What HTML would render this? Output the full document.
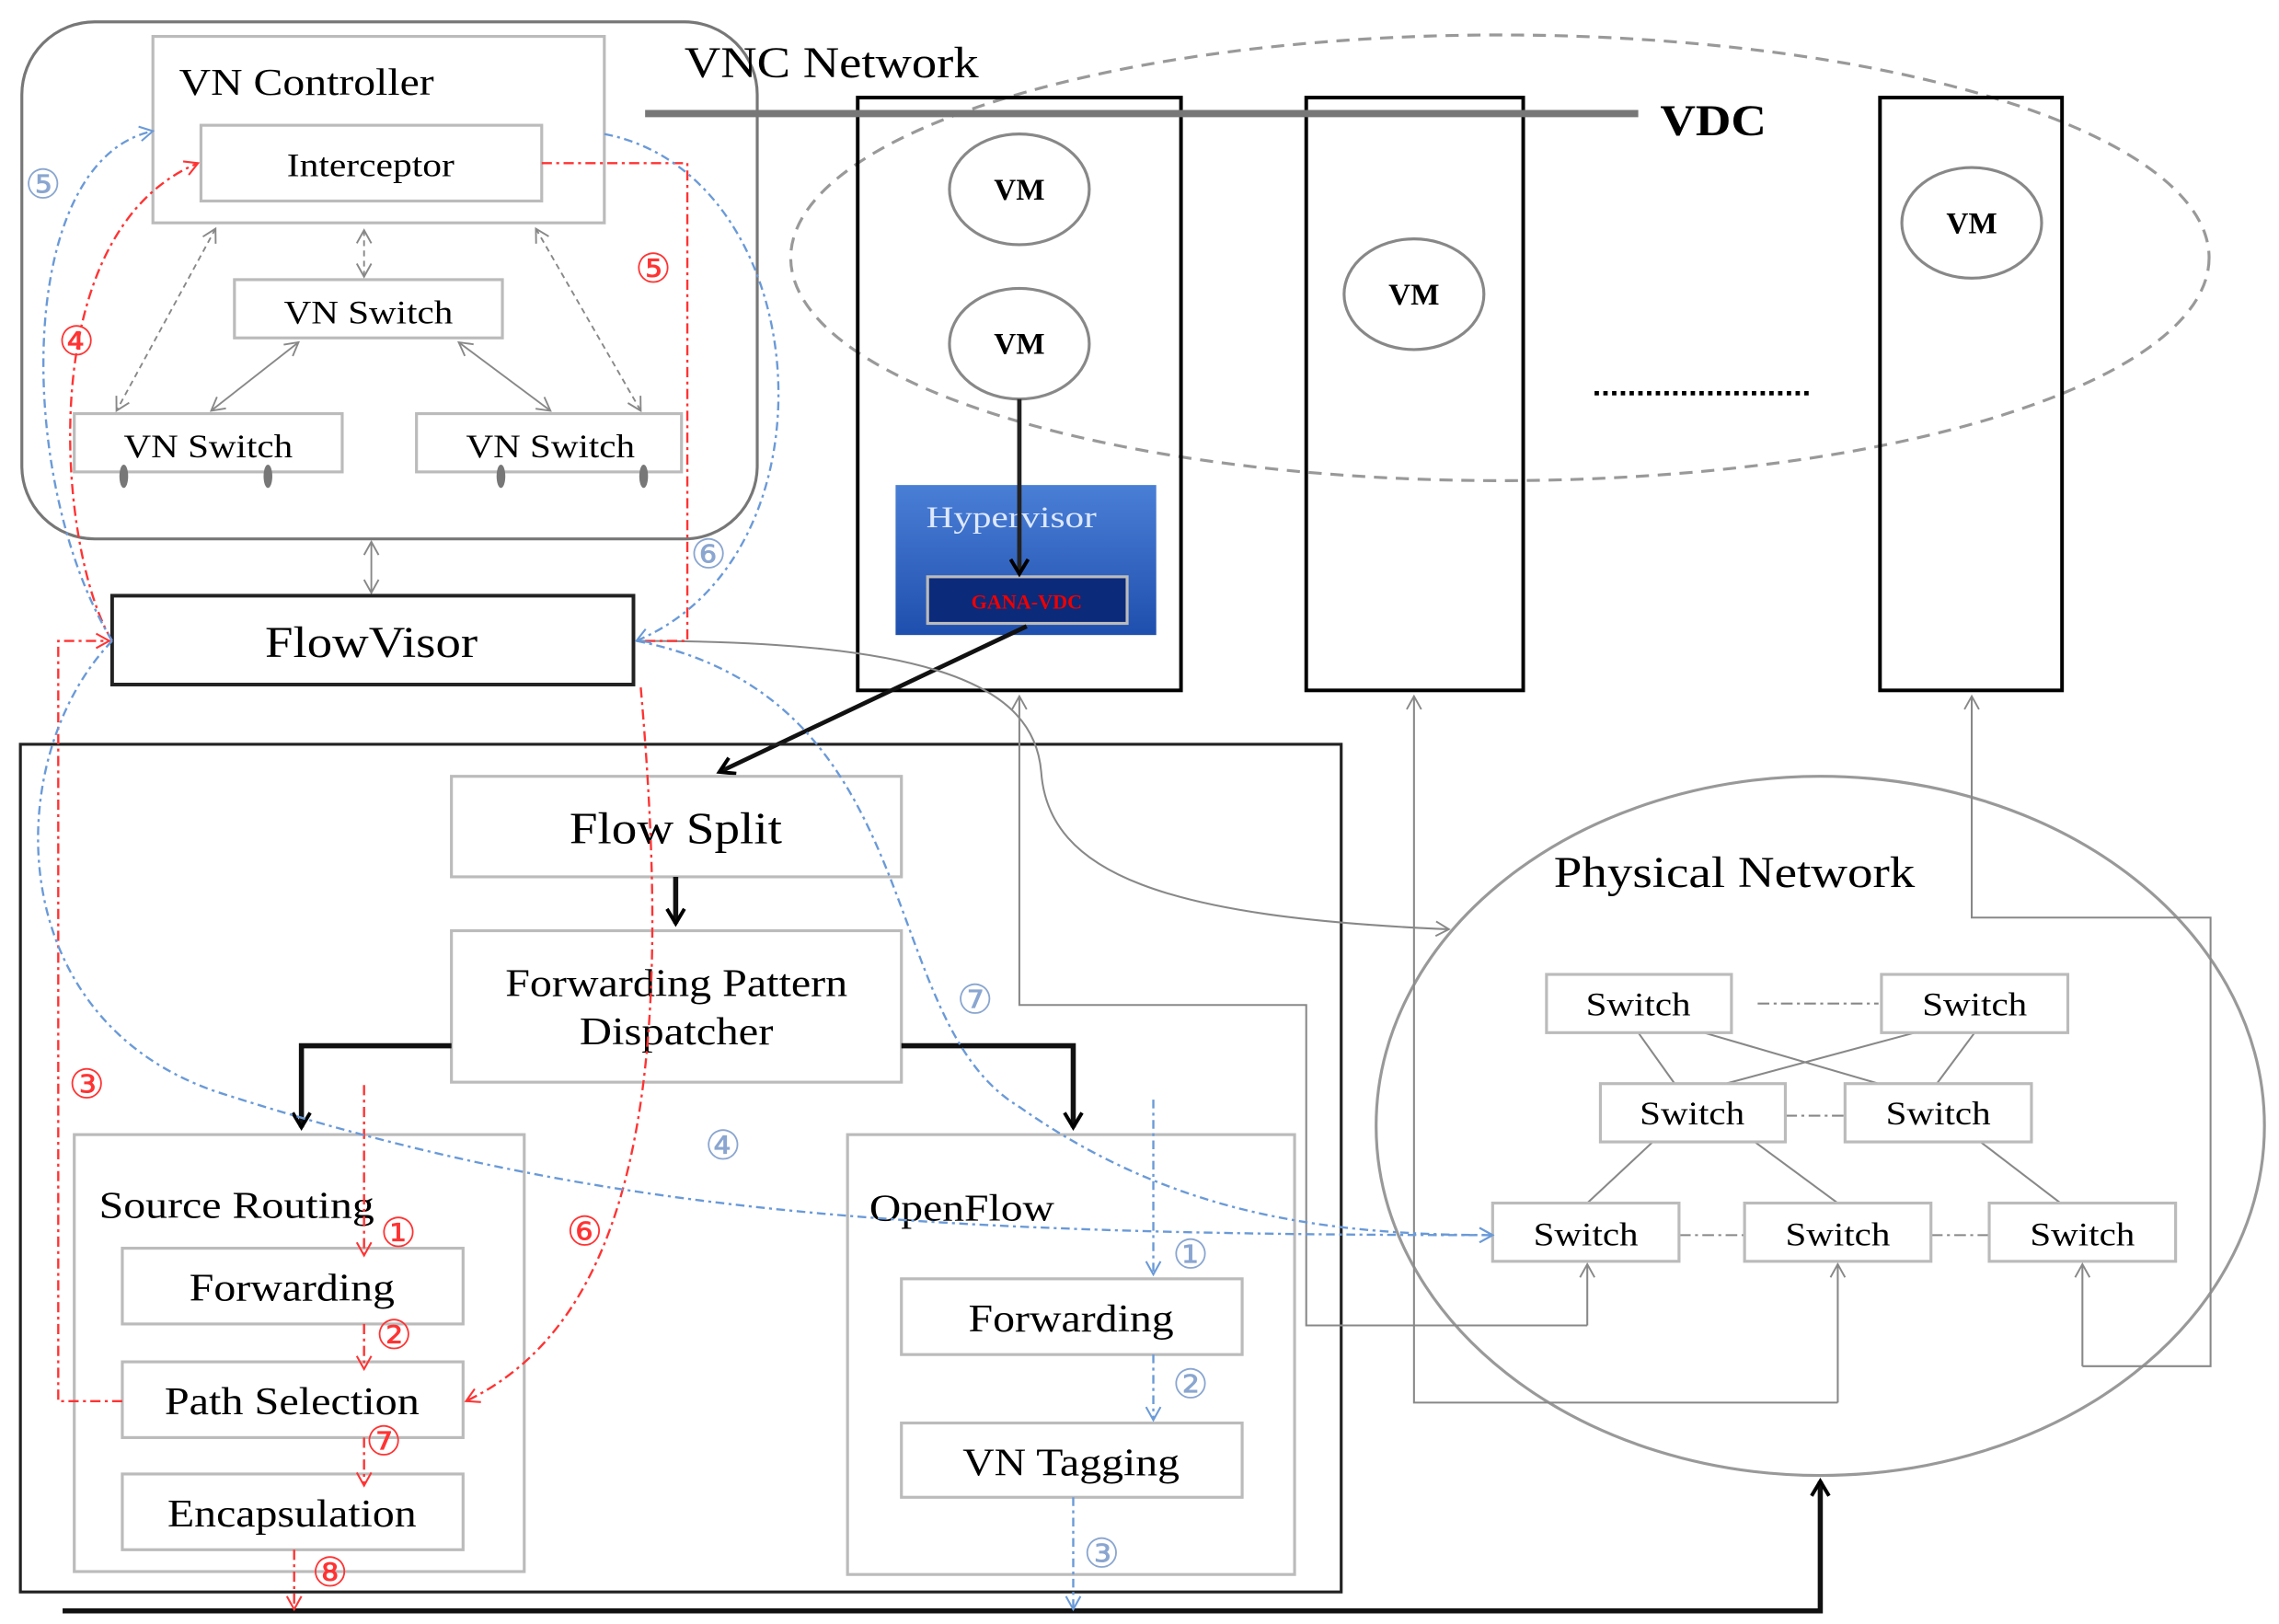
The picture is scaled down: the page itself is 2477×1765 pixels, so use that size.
<!DOCTYPE html>
<html><head><meta charset="utf-8"><style>html,body{margin:0;padding:0;background:#fff}svg{display:block}</style></head>
<body>
<svg width="2477" height="1765" viewBox="0 0 1565 1115" preserveAspectRatio="none" xmlns="http://www.w3.org/2000/svg" font-family="'Liberation Serif',serif">
<defs>
<marker id="ag" markerWidth="12" markerHeight="12" refX="10" refY="6" orient="auto" markerUnits="userSpaceOnUse"><path d="M1,1 L10,6 L1,11" fill="none" stroke="#888" stroke-width="1.2"/></marker>
<marker id="agb" markerWidth="12" markerHeight="12" refX="2" refY="6" orient="auto" markerUnits="userSpaceOnUse"><path d="M11,1 L2,6 L11,11" fill="none" stroke="#888" stroke-width="1.2"/></marker>
<marker id="ar" markerWidth="12" markerHeight="12" refX="10" refY="6" orient="auto" markerUnits="userSpaceOnUse"><path d="M1,1 L10,6 L1,11" fill="none" stroke="#f33" stroke-width="1.3"/></marker>
<marker id="abl" markerWidth="12" markerHeight="12" refX="10" refY="6" orient="auto" markerUnits="userSpaceOnUse"><path d="M1,1 L10,6 L1,11" fill="none" stroke="#6a9ad8" stroke-width="1.3"/></marker>
<marker id="ak" markerWidth="14" markerHeight="14" refX="11" refY="7" orient="auto" markerUnits="userSpaceOnUse"><path d="M1,1 L11,7 L1,13" fill="none" stroke="#000" stroke-width="2.5"/></marker>
<linearGradient id="hv" x1="0" y1="0" x2="0" y2="1"><stop offset="0" stop-color="#4a7fd6"/><stop offset="1" stop-color="#1f4fae"/></linearGradient>
</defs>

<rect x="15" y="15" width="505" height="355" rx="50" fill="none" stroke="#777" stroke-width="2"/>
<rect x="105" y="25" width="310" height="128" fill="none" stroke="#bbb" stroke-width="2"/>
<text x="123" y="65" font-size="26" textLength="175" lengthAdjust="spacingAndGlyphs">VN Controller</text>
<rect x="138" y="86" width="234" height="52" fill="none" stroke="#bbb" stroke-width="2"/>
<text x="197" y="121" font-size="23" textLength="115" lengthAdjust="spacingAndGlyphs">Interceptor</text>
<rect x="161" y="192" width="184" height="40" fill="none" stroke="#bbb" stroke-width="2"/>
<text x="195" y="222" font-size="23" textLength="116" lengthAdjust="spacingAndGlyphs">VN Switch</text>
<rect x="51" y="284" width="184" height="40" fill="none" stroke="#bbb" stroke-width="2"/>
<text x="85" y="314" font-size="23" textLength="116" lengthAdjust="spacingAndGlyphs">VN Switch</text>
<rect x="286" y="284" width="182" height="40" fill="none" stroke="#bbb" stroke-width="2"/>
<text x="320" y="314" font-size="23" textLength="116" lengthAdjust="spacingAndGlyphs">VN Switch</text>
<g fill="#777"><ellipse cx="85" cy="327" rx="3" ry="8"/><ellipse cx="184" cy="327" rx="3" ry="8"/><ellipse cx="344" cy="327" rx="3" ry="8"/><ellipse cx="442" cy="327" rx="3" ry="8"/></g>
<g stroke="#888" stroke-width="1.2" fill="none">
<line x1="250" y1="158" x2="250" y2="190" stroke-dasharray="4,3" marker-start="url(#agb)" marker-end="url(#ag)"/>
<line x1="148" y1="157" x2="80" y2="282" stroke-dasharray="4,3" marker-start="url(#agb)" marker-end="url(#ag)"/>
<line x1="368" y1="157" x2="440" y2="282" stroke-dasharray="4,3" marker-start="url(#agb)" marker-end="url(#ag)"/>
<line x1="205" y1="235" x2="145" y2="282" marker-start="url(#agb)" marker-end="url(#ag)"/>
<line x1="315" y1="235" x2="378" y2="282" marker-start="url(#agb)" marker-end="url(#ag)"/>
<line x1="255" y1="372" x2="255" y2="407" marker-start="url(#agb)" marker-end="url(#ag)"/>
</g>
<rect x="77" y="409" width="358" height="61" fill="none" stroke="#222" stroke-width="2.5"/>
<text x="182" y="451" font-size="30" textLength="146" lengthAdjust="spacingAndGlyphs">FlowVisor</text>

<ellipse cx="1030" cy="177" rx="487" ry="153" fill="none" stroke="#999" stroke-width="2" stroke-dasharray="9,6"/>
<rect x="589" y="67" width="222" height="407" fill="none" stroke="#000" stroke-width="2.5"/>
<rect x="897" y="67" width="149" height="407" fill="none" stroke="#000" stroke-width="2.5"/>
<rect x="1291" y="67" width="125" height="407" fill="none" stroke="#000" stroke-width="2.5"/>
<line x1="443" y1="78" x2="1125" y2="78" stroke="#777" stroke-width="5"/>
<text x="470" y="53" font-size="30" textLength="202" lengthAdjust="spacingAndGlyphs">VNC Network</text>
<text x="1140" y="93" font-size="30" font-weight="bold" textLength="73" lengthAdjust="spacingAndGlyphs">VDC</text>
<g fill="#fff" stroke="#888" stroke-width="2">
<ellipse cx="700" cy="130" rx="48" ry="38"/><ellipse cx="700" cy="236" rx="48" ry="38"/><ellipse cx="971" cy="202" rx="48" ry="38"/><ellipse cx="1354" cy="153" rx="48" ry="38"/></g>
<g font-size="21" font-weight="bold" text-anchor="middle"><text x="700" y="137">VM</text><text x="700" y="243">VM</text><text x="971" y="209">VM</text><text x="1354" y="160">VM</text></g>
<line x1="1095" y1="270" x2="1245" y2="270" stroke="#000" stroke-width="3" stroke-dasharray="3,3"/>
<rect x="615" y="333" width="179" height="103" fill="url(#hv)"/>
<text x="636" y="362" font-size="21" fill="#dde8ff" textLength="117" lengthAdjust="spacingAndGlyphs">Hypervisor</text>
<rect x="637" y="396" width="137" height="32" fill="#0b2a7a" stroke="#bbb" stroke-width="2"/>
<text x="705" y="418" font-size="14" font-weight="bold" fill="#e00" text-anchor="middle">GANA-VDC</text>
<line x1="700" y1="274" x2="700" y2="394" stroke="#222" stroke-width="3" marker-end="url(#ak)"/>
<line x1="705" y1="430" x2="494" y2="530" stroke="#111" stroke-width="3" marker-end="url(#ak)"/>

<rect x="14" y="511" width="907" height="582" fill="none" stroke="#222" stroke-width="2"/>
<g fill="none" stroke="#bbb" stroke-width="2">
<rect x="310" y="533" width="309" height="69"/><rect x="310" y="639" width="309" height="104"/>
<rect x="51" y="779" width="309" height="300"/><rect x="582" y="779" width="307" height="302"/>
<rect x="84" y="857" width="234" height="52"/><rect x="84" y="935" width="234" height="52"/><rect x="84" y="1012" width="234" height="52"/>
<rect x="619" y="878" width="234" height="52"/><rect x="619" y="977" width="234" height="51"/>
</g>
<g font-size="27" lengthAdjust="spacingAndGlyphs">
<text x="391" y="579" font-size="31" textLength="146" lengthAdjust="spacingAndGlyphs">Flow Split</text>
<text x="347" y="684" textLength="235" lengthAdjust="spacingAndGlyphs">Forwarding Pattern</text><text x="398" y="717" textLength="133" lengthAdjust="spacingAndGlyphs">Dispatcher</text>
<text x="130" y="893" textLength="141" lengthAdjust="spacingAndGlyphs">Forwarding</text><text x="113" y="971" textLength="175" lengthAdjust="spacingAndGlyphs">Path Selection</text><text x="115" y="1048" textLength="171" lengthAdjust="spacingAndGlyphs">Encapsulation</text>
<text x="665" y="914" textLength="141" lengthAdjust="spacingAndGlyphs">Forwarding</text><text x="661" y="1013" textLength="149" lengthAdjust="spacingAndGlyphs">VN Tagging</text>
<text x="68" y="836" font-size="26" textLength="189" lengthAdjust="spacingAndGlyphs">Source Routing</text>
<text x="597" y="838" font-size="26" textLength="127" lengthAdjust="spacingAndGlyphs">OpenFlow</text>
</g>
<g stroke="#111" stroke-width="3.5" fill="none">
<line x1="464" y1="602" x2="464" y2="634" marker-end="url(#ak)"/>
<polyline points="310,718 207,718 207,774" marker-end="url(#ak)"/>
<polyline points="619,718 737,718 737,774" marker-end="url(#ak)"/>
<polyline points="43,1106 1250,1106 1250,1017" marker-end="url(#ak)"/>
</g>

<ellipse cx="1250" cy="773" rx="305" ry="240" fill="none" stroke="#999" stroke-width="2"/>
<text x="1067" y="609" font-size="30" textLength="248" lengthAdjust="spacingAndGlyphs">Physical Network</text>
<g stroke="#888" stroke-width="1.3" fill="none">
<line x1="1125" y1="709" x2="1150" y2="744"/><line x1="1170" y1="709" x2="1290" y2="744"/>
<line x1="1315" y1="709" x2="1185" y2="744"/><line x1="1356" y1="709" x2="1330" y2="744"/>
<line x1="1135" y1="784" x2="1090" y2="826"/><line x1="1205" y1="784" x2="1262" y2="826"/><line x1="1360" y1="784" x2="1415" y2="826"/>
<line x1="1207" y1="689" x2="1290" y2="689" stroke-dasharray="8,3,2,3"/>
<line x1="1226" y1="766" x2="1267" y2="766" stroke-dasharray="8,3,2,3"/>
<line x1="1153" y1="848" x2="1198" y2="848" stroke-dasharray="8,3,2,3"/>
<line x1="1326" y1="848" x2="1366" y2="848" stroke-dasharray="8,3,2,3"/>
</g>
<g fill="#fff" stroke="#bbb" stroke-width="2">
<rect x="1062" y="669" width="127" height="40"/><rect x="1292" y="669" width="128" height="40"/>
<rect x="1099" y="744" width="127" height="40"/><rect x="1267" y="744" width="128" height="40"/>
<rect x="1025" y="826" width="128" height="40"/><rect x="1198" y="826" width="128" height="40"/><rect x="1366" y="826" width="128" height="40"/>
</g>
<g font-size="23">
<text x="1089" y="697" textLength="72" lengthAdjust="spacingAndGlyphs">Switch</text><text x="1320" y="697" textLength="72" lengthAdjust="spacingAndGlyphs">Switch</text>
<text x="1126" y="772" textLength="72" lengthAdjust="spacingAndGlyphs">Switch</text><text x="1295" y="772" textLength="72" lengthAdjust="spacingAndGlyphs">Switch</text>
<text x="1053" y="855" textLength="72" lengthAdjust="spacingAndGlyphs">Switch</text><text x="1226" y="855" textLength="72" lengthAdjust="spacingAndGlyphs">Switch</text><text x="1394" y="855" textLength="72" lengthAdjust="spacingAndGlyphs">Switch</text>
</g>
<g stroke="#888" stroke-width="1.3" fill="none">
<polyline points="1090,910 897,910 897,690 700,690 700,478" marker-end="url(#ag)"/>
<line x1="1090" y1="910" x2="1090" y2="868" marker-end="url(#ag)"/>
<polyline points="1262,963 971,963 971,478" marker-end="url(#ag)"/>
<line x1="1262" y1="963" x2="1262" y2="868" marker-end="url(#ag)"/>
<polyline points="1430,938 1518,938 1518,630 1354,630 1354,478" marker-end="url(#ag)"/>
<line x1="1430" y1="938" x2="1430" y2="868" marker-end="url(#ag)"/>
<path d="M437,440 C640,440 710,470 715,530 C720,600 800,630 995,638" marker-end="url(#ag)"/>
</g>

<g stroke="#f33" stroke-width="1.5" fill="none" stroke-dasharray="7,3,2,3">
<polyline points="372,112 472,112 472,440 440,440"/>
<path d="M77,440 C40,380 20,160 136,112" marker-end="url(#ar)"/>
<polyline points="84,962 40,962 40,440 75,440" marker-end="url(#ar)"/>
<path d="M440,472 C460,700 450,900 320,962" marker-end="url(#ar)"/>
<line x1="250" y1="745" x2="250" y2="862" marker-end="url(#ar)"/>
<line x1="250" y1="909" x2="250" y2="940" marker-end="url(#ar)"/>
<line x1="250" y1="987" x2="250" y2="1020" marker-end="url(#ar)"/>
<line x1="202" y1="1064" x2="202" y2="1105" marker-end="url(#ar)"/>
</g>
<g font-size="28" fill="#f33" font-family="'DejaVu Sans',sans-serif">
<text x="436" y="194">⑤</text><text x="40" y="244">④</text><text x="47" y="754">③</text><text x="389" y="855">⑥</text>
<text x="261" y="856">①</text><text x="258" y="926">②</text><text x="251" y="999">⑦</text><text x="214" y="1089">⑧</text>
</g>
<g stroke="#6a9ad8" stroke-width="1.5" fill="none" stroke-dasharray="6,3,2,3">
<path d="M77,440 C10,330 10,110 105,90" marker-end="url(#abl)"/>
<path d="M415,92 C560,120 580,380 437,440" marker-end="url(#abl)"/>
<path d="M437,440 C640,480 600,700 700,760 C800,830 900,848 1025,848" marker-end="url(#abl)"/>
<path d="M77,440 C0,520 0,700 150,750 C400,830 600,848 1025,848" marker-end="url(#abl)"/>
<line x1="792" y1="755" x2="792" y2="875" marker-end="url(#abl)"/>
<line x1="792" y1="930" x2="792" y2="975" marker-end="url(#abl)"/>
<line x1="737" y1="1028" x2="737" y2="1105" marker-end="url(#abl)"/>
</g>
<g font-size="28" fill="#8aa6d0" font-family="'DejaVu Sans',sans-serif">
<text x="17" y="136">⑤</text><text x="474" y="390">⑥</text><text x="657" y="696">⑦</text><text x="484" y="796">④</text>
<text x="805" y="871">①</text><text x="805" y="960">②</text><text x="744" y="1076">③</text>
</g>
</svg>
</body></html>
